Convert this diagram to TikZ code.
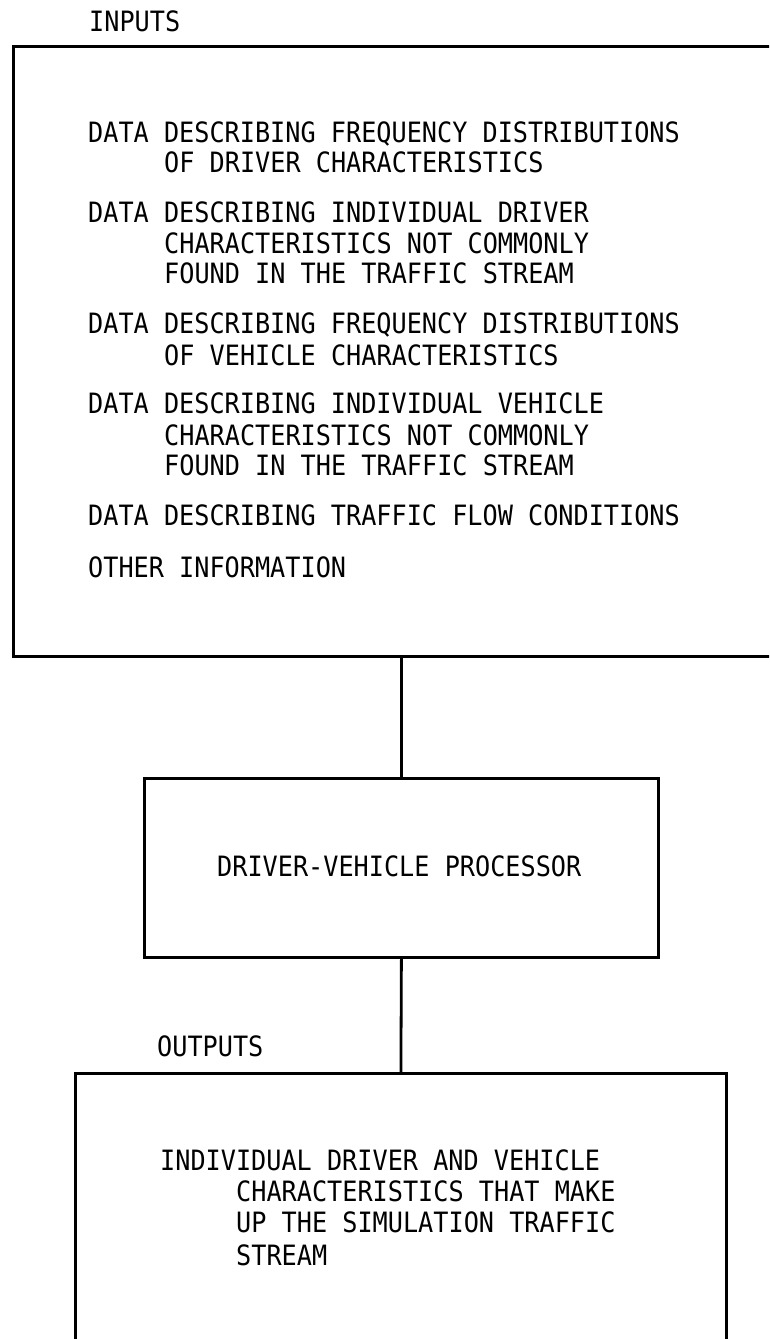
\documentclass[tikz,border=0pt]{standalone}
\usepackage{fontspec}
\newfontfamily\typefont[FakeStretch=0.9]{DejaVu Sans Mono}
\usetikzlibrary{positioning}

\begin{document}
\begin{tikzpicture}[x=1pt,y=-1pt,
  every node/.style={font=\typefont\fontsize{28}{31}\selectfont,inner sep=0pt},
  panel/.style={draw,line width=2.8pt,anchor=north west},
  txt/.style={anchor=base west}]
\clip (0,0) rectangle (769,1339);
\fill[white] (0,0) rectangle (769,1339);
% boxes
\node[panel,minimum width=820pt,minimum height=610pt] (inbox) at (12,45) {};
\node[panel,minimum width=514pt,minimum height=179pt] (proc) at (143,777) {};
\node[panel,minimum width=651pt,minimum height=320pt] (outbox) at (74,1072) {};
\draw[line width=2.8pt] (proc.north |- inbox.south)--(proc.north);
\draw[line width=2.8pt] (proc.south)--(outbox.north);
% inputs
\node[txt] (inlabel) at (89,31) {INPUTS};
\node[txt] (in1) at (88,142) {DATA DESCRIBING FREQUENCY DISTRIBUTIONS};
\node[txt] (in1b) at (164,172) {OF DRIVER CHARACTERISTICS};
\node[txt] (in2) at (88,222) {DATA DESCRIBING INDIVIDUAL DRIVER};
\node[txt] (in2b) at (164,253) {CHARACTERISTICS NOT COMMONLY};
\node[txt] (in2c) at (164,283) {FOUND IN THE TRAFFIC STREAM};
\node[txt] (in3) at (88,333) {DATA DESCRIBING FREQUENCY DISTRIBUTIONS};
\node[txt] (in3b) at (164,365) {OF VEHICLE CHARACTERISTICS};
\node[txt] (in4) at (88,413) {DATA DESCRIBING INDIVIDUAL VEHICLE};
\node[txt] (in4b) at (164,445) {CHARACTERISTICS NOT COMMONLY};
\node[txt] (in4c) at (164,475) {FOUND IN THE TRAFFIC STREAM};
\node[txt] (in5) at (88,525) {DATA DESCRIBING TRAFFIC FLOW CONDITIONS};
\node[txt] (in6) at (88,577) {OTHER INFORMATION};
% processor
\node[txt] (proctext) at (217,876) {DRIVER-VEHICLE PROCESSOR};
% outputs
\node[txt] (outlabel) at (157,1056) {OUTPUTS};
\node[txt] (out1) at (160,1170) {INDIVIDUAL DRIVER AND VEHICLE};
\node[txt] (out1b) at (236,1201) {CHARACTERISTICS THAT MAKE};
\node[txt] (out1c) at (236,1232) {UP THE SIMULATION TRAFFIC};
\node[txt] (out1d) at (236,1265) {STREAM};
\end{tikzpicture}
\end{document}
